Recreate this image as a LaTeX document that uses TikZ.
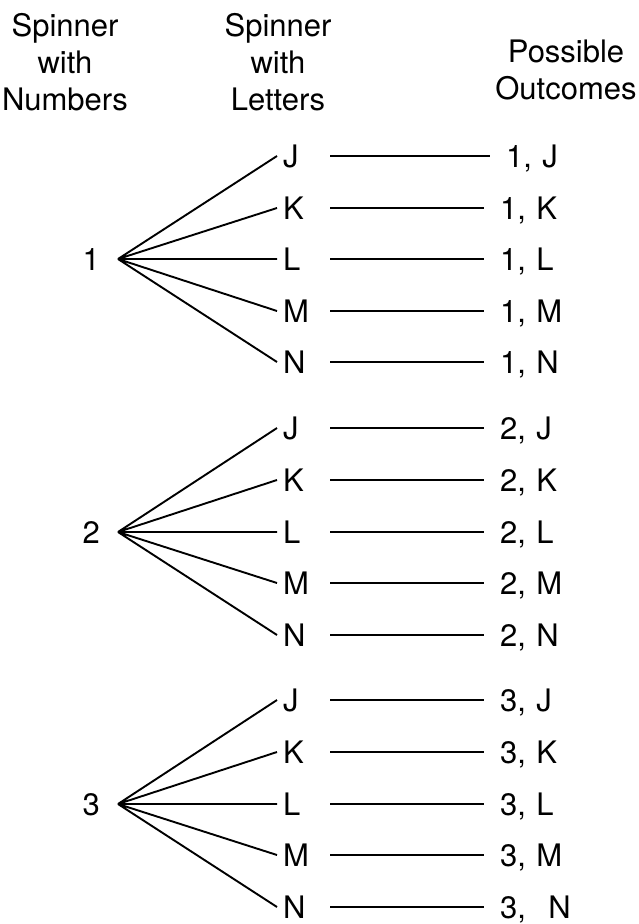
\documentclass[tikz,border=0pt]{standalone}
\usepackage{fontspec}
\setmainfont{TeX Gyre Heros}
\usetikzlibrary{positioning}

\begin{document}
\begin{tikzpicture}[x=1pt, y=-1pt,
    txt/.style={font=\fontsize{31}{37}\selectfont, inner sep=0pt, text height=22pt, text depth=0pt},
    head/.style={font=\fontsize{31}{37}\selectfont, align=center, inner sep=0pt, anchor=north},
    num/.style={txt, anchor=east, inner xsep=18pt},
    letter/.style={txt, anchor=west, inner xsep=6pt, text width=20pt, align=left},
    outcome/.style={txt, anchor=west},
    branch/.style={line width=1.9pt},
    link/.style={line width=1.9pt, shorten <=21pt, shorten >=16pt},
]
\useasboundingbox (0,0) rectangle (639,924);

\node[head] (hnum) at (65,13) {Spinner\\with\\Numbers};
\node[head] (hlet) at (278,13) {Spinner\\with\\Letters};
\node[head] (hout) at (566,40) {Possible\\Outcomes};

% first spin: 1
\node[num] (n1) at (118,259) {1};
\node[letter] (n1J) at (277,156) {J};
\node[letter] (n1K) at (277,208) {K};
\node[letter] (n1L) at (277,259) {L};
\node[letter] (n1M) at (277,311) {M};
\node[letter] (n1N) at (277,362) {N};
\node[outcome] (o1J) at (506,156) {1,\,\,J};
\node[outcome] (o1K) at (500,208) {1,\,\,K};
\node[outcome] (o1L) at (500,259) {1,\,\,L};
\node[outcome] (o1M) at (500,311) {1,\,\,M};
\node[outcome] (o1N) at (500,362) {1,\,\,N};

% first spin: 2
\node[num] (n2) at (118,532) {2};
\node[letter] (n2J) at (277,428) {J};
\node[letter] (n2K) at (277,480) {K};
\node[letter] (n2L) at (277,532) {L};
\node[letter] (n2M) at (277,583) {M};
\node[letter] (n2N) at (277,635) {N};
\node[outcome] (o2J) at (500,428) {2,\,\,J};
\node[outcome] (o2K) at (500,480) {2,\,\,K};
\node[outcome] (o2L) at (500,532) {2,\,\,L};
\node[outcome] (o2M) at (500,583) {2,\,\,M};
\node[outcome] (o2N) at (500,635) {2,\,\,N};

% first spin: 3
\node[num] (n3) at (118,804) {3};
\node[letter] (n3J) at (277,700) {J};
\node[letter] (n3K) at (277,752) {K};
\node[letter] (n3L) at (277,804) {L};
\node[letter] (n3M) at (277,855) {M};
\node[letter] (n3N) at (277,907) {N};
\node[outcome] (o3J) at (500,700) {3,\,\,J};
\node[outcome] (o3K) at (500,752) {3,\,\,K};
\node[outcome] (o3L) at (500,804) {3,\,\,L};
\node[outcome] (o3M) at (500,855) {3,\,\,M};
\node[outcome] (o3N) at (500,907) {3,\ \ \,N};

\draw[branch] (n1.east) -- (n1J.west) (n1.east) -- (n1K.west) (n1.east) -- (n1L.west)
              (n1.east) -- (n1M.west) (n1.east) -- (n1N.west);
\draw[branch] (n2.east) -- (n2J.west) (n2.east) -- (n2K.west) (n2.east) -- (n2L.west)
              (n2.east) -- (n2M.west) (n2.east) -- (n2N.west);
\draw[branch] (n3.east) -- (n3J.west) (n3.east) -- (n3K.west) (n3.east) -- (n3L.west)
              (n3.east) -- (n3M.west) (n3.east) -- (n3N.west);

\draw[link] (n1J.east) -- (o1J.west);
\draw[link] (n1K.east) -- (o1K.west);
\draw[link] (n1L.east) -- (o1L.west);
\draw[link] (n1M.east) -- (o1M.west);
\draw[link] (n1N.east) -- (o1N.west);
\draw[link] (n2J.east) -- (o2J.west);
\draw[link] (n2K.east) -- (o2K.west);
\draw[link] (n2L.east) -- (o2L.west);
\draw[link] (n2M.east) -- (o2M.west);
\draw[link] (n2N.east) -- (o2N.west);
\draw[link] (n3J.east) -- (o3J.west);
\draw[link] (n3K.east) -- (o3K.west);
\draw[link] (n3L.east) -- (o3L.west);
\draw[link] (n3M.east) -- (o3M.west);
\draw[link] (n3N.east) -- (o3N.west);
\end{tikzpicture}
\end{document}
